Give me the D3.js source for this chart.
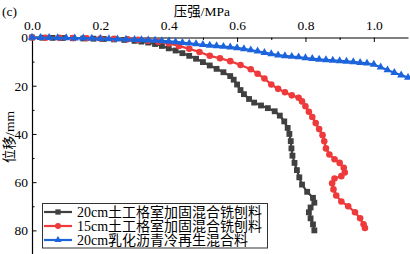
<!DOCTYPE html>
<meta charset="utf-8">
<script src="https://d3js.org/d3.v7.min.js"></script>
<style>
  body { margin: 0; background: #fff; }
  text { font-family: "Liberation Serif", "Times New Roman", "Noto Sans CJK SC", serif; }
</style>
<div id="chart"></div>
<script>

// data: [pressure MPa, displacement mm]
var geocell20 = [[0,0],[0.03,0.1],[0.06,0.15],[0.09,0.2],[0.12,0.3],[0.15,0.4],[0.18,0.5],[0.21,0.6],[0.24,0.8],[0.27,1.0],
  [0.30,1.4],[0.32,1.7],[0.34,2.1],[0.36,2.7],[0.38,3.5],[0.40,4.5],[0.42,5.4],[0.44,6.5],[0.46,7.6],[0.48,8.8],
  [0.50,10.2],[0.52,11.6],[0.54,13.0],[0.56,14.4],[0.58,16.0],[0.59,17.5],[0.60,19.5],[0.61,21.8],[0.62,23.5],[0.635,25.5],
  [0.65,27.0],[0.67,28.2],[0.69,29.3],[0.71,30.6],[0.725,32.4],[0.738,34.8],[0.748,37.5],[0.753,40.0],[0.757,43.0],[0.759,46.0],
  [0.762,49.0],[0.768,52.0],[0.775,55.0],[0.782,58.0],[0.790,61.0],[0.805,64.0],[0.822,66.5],[0.826,68.5],[0.815,70.5],[0.810,72.5],
  [0.815,75.0],[0.822,77.5],[0.826,80.0]]

var geocell15 = [[0,0],[0.04,0.1],[0.08,0.15],[0.12,0.2],[0.16,0.3],[0.20,0.4],[0.24,0.55],[0.28,0.75],[0.31,1.0],[0.34,1.3],
  [0.37,1.8],[0.40,2.5],[0.43,3.5],[0.46,4.7],[0.49,6.0],[0.52,7.6],[0.55,8.6],[0.58,9.8],[0.61,11.4],[0.64,13.2],
  [0.66,15.0],[0.68,17.0],[0.70,19.5],[0.72,21.3],[0.74,22.7],[0.76,24.0],[0.78,25.0],[0.79,26.5],[0.80,28.5],[0.81,30.8],
  [0.82,33.0],[0.83,35.5],[0.84,38.0],[0.85,40.5],[0.855,43.0],[0.86,46.0],[0.87,48.5],[0.885,50.5],[0.90,52.0],[0.912,54.0],
  [0.915,56.0],[0.905,57.5],[0.885,58.5],[0.878,60.5],[0.882,63.0],[0.890,65.5],[0.905,68.0],[0.925,70.0],[0.945,72.5],[0.960,75.0],
  [0.970,77.5],[0.974,79.0]]

var emulsion20 = [[0,0],[0.025,0.05],[0.05,0.1],[0.075,0.15],[0.10,0.2],[0.125,0.25],[0.15,0.3],[0.175,0.4],[0.20,0.5],[0.225,0.6],
  [0.25,0.7],[0.275,0.8],[0.30,0.9],[0.32,1.0],[0.34,1.1],[0.36,1.25],[0.38,1.4],[0.40,1.6],[0.42,1.8],[0.44,2.1],
  [0.46,2.4],[0.48,2.7],[0.50,3.0],[0.52,3.25],[0.54,3.5],[0.56,3.75],[0.58,4.0],[0.60,4.3],[0.62,4.7],[0.64,5.2],
  [0.66,5.7],[0.68,6.3],[0.70,6.8],[0.72,7.3],[0.74,7.6],[0.76,7.9],[0.78,8.1],[0.80,8.5],[0.82,8.8],[0.84,9.1],
  [0.86,9.3],[0.88,9.5],[0.90,9.7],[0.92,9.9],[0.94,10.1],[0.96,10.4],[0.98,10.7],[1.00,11.2],[1.02,12.3],[1.04,13.5],
  [1.06,14.6],[1.08,15.6],[1.10,16.6]]

var seriesNames = ["20cm土工格室加固混合铣刨料", "15cm土工格室加固混合铣刨料", "20cm乳化沥青冷再生混合料"]
var xTicks = [0, 0.2, 0.4, 0.6, 0.8, 1.0]
var yTicks = [0, 20, 40, 60, 80]

var margin = {top: 37.5, left: 32},
    width = 376,
    height = 217

var svg = d3.select("#chart")
  .append("svg")
    .attr("width", 410)
    .attr("height", 254)

var g = svg.append("g")
    .attr("transform", "translate(" + margin.left + "," + margin.top + ")")

var x = d3.scaleLinear().domain([0, 1.1]).range([0, width])
var y = d3.scaleLinear().domain([0, 90]).range([0, height])

// minor ticks
g.append("g")
  .call(d3.axisTop(x).tickValues(d3.range(0.1, 1.1, 0.2)).tickSize(-2.5).tickFormat(""))
  .call(function(a) { a.select(".domain").remove() })
g.append("g")
  .call(d3.axisLeft(y).tickValues(d3.range(10, 91, 20)).tickSize(-2.5).tickFormat(""))
  .call(function(a) { a.select(".domain").remove() })

// top axis
var xa = g.append("g")
  .call(d3.axisTop(x).tickValues(xTicks).tickSizeInner(-4.5).tickSizeOuter(0).tickPadding(8)
    .tickFormat(d3.format(".1f")))
xa.selectAll("text").style("font-size", "13.5px").attr("fill", "#000")

// left axis
var ya = g.append("g")
  .call(d3.axisLeft(y).tickValues(yTicks).tickSizeInner(-4.5).tickSizeOuter(0).tickPadding(4))
ya.selectAll("text").style("font-size", "13.5px").attr("fill", "#000")

svg.selectAll(".domain").attr("stroke", "#000").attr("stroke-width", 1.2)

// titles
svg.append("text").attr("x", 2).attr("y", 16).style("font-size", "13.5px").text("(c)")
svg.append("text").attr("x", 202).attr("y", 16).attr("text-anchor", "middle")
  .style("font-size", "13.5px").text("压强/MPa")
svg.append("text")
  .attr("transform", "translate(14,137) rotate(-90)")
  .attr("text-anchor", "middle")
  .style("font-size", "13.5px").text("位移/mm")

var colors = ["#404040", "#ee3a3a", "#1c64dc"]
var symbols = [d3.symbolSquare, d3.symbolCircle, d3.symbolTriangle]
var sizes = [34, 34, 28]
var allData = [geocell20, geocell15, emulsion20]

var line = d3.line()
  .x(function(d) { return x(d[0]) })
  .y(function(d) { return y(d[1]) })

allData.forEach(function(data, i) {
  g.append("path")
    .datum(data)
    .attr("d", line)
    .attr("fill", "none")
    .attr("stroke", colors[i])
    .attr("stroke-width", 2.2)

  g.selectAll(".m" + i)
    .data(data)
    .enter()
    .append("path")
      .attr("class", "m" + i)
      .attr("transform", function(d) { return "translate(" + x(d[0]) + "," + y(d[1]) + ")" })
      .attr("d", d3.symbol().type(symbols[i]).size(sizes[i]))
      .attr("fill", colors[i])
})

// legend
var lg = svg.append("g")
lg.append("rect")
  .attr("x", 42.5).attr("y", 203.5).attr("width", 225).attr("height", 44.5)
  .attr("fill", "#fff").attr("stroke", "#333").attr("stroke-width", 1)

seriesNames.forEach(function(name, i) {
  var ly = 212 + i * 14
  lg.append("line")
    .attr("x1", 44).attr("x2", 72).attr("y1", ly).attr("y2", ly)
    .attr("stroke", colors[i]).attr("stroke-width", 2.2)
  lg.append("path")
    .attr("transform", "translate(58," + ly + ")")
    .attr("d", d3.symbol().type(symbols[i]).size(sizes[i] - 6))
    .attr("fill", colors[i])
  lg.append("text")
    .attr("x", 77).attr("y", ly + 5)
    .style("font-size", "14px")
    .text(name)
})

</script>
